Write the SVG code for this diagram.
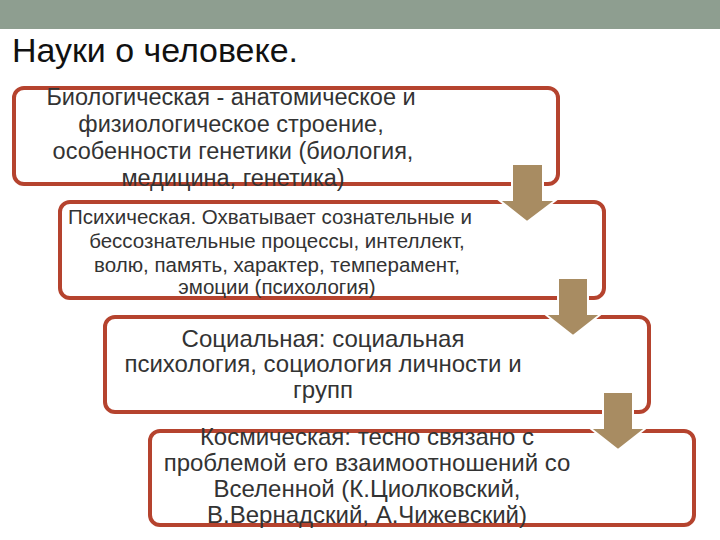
<svg xmlns="http://www.w3.org/2000/svg" width="720" height="540" viewBox="0 0 720 540">
<style>
.box{fill:#fff;stroke:#B5432E;stroke-width:4}
.arr{fill:#A88C62;stroke:#fff;stroke-width:2}
text{font-family:"Liberation Sans",Arial,sans-serif;fill:#333;text-anchor:middle}
</style>
<rect x="0" y="0" width="720" height="29" fill="#8E9E90"/>
<text x="12" y="62" style="text-anchor:start;font-size:33px;fill:#111" textLength="286" lengthAdjust="spacingAndGlyphs">Науки о человеке.</text>
<g id="n1"><rect class="box" x="14" y="88" width="544" height="96" rx="10"/>
<text font-size="23.5"><tspan x="231" y="105">Биологическая -  анатомическое и</tspan><tspan x="231" y="132">физиологическое строение,</tspan><tspan x="233" y="159">особенности генетики (биология,</tspan><tspan x="233" y="186">медицина, генетика)</tspan></text></g>
<g id="n2"><rect class="box" x="60" y="202" width="544" height="96" rx="10"/>
<text font-size="20.5"><tspan x="270" y="224">Психическая. Охватывает сознательные и</tspan><tspan x="277" y="248">бессознательные процессы, интеллект,</tspan><tspan x="277" y="272">волю, память, характер, темперамент,</tspan><tspan x="277" y="294">эмоции (психология)</tspan></text></g>
<g id="n3"><rect class="box" x="105" y="317" width="544" height="95" rx="10"/>
<text font-size="24"><tspan x="323" y="347">Социальная: социальная</tspan><tspan x="323" y="372">психология, социология личности и</tspan><tspan x="323" y="398">групп</tspan></text></g>
<g id="n4"><rect class="box" x="150" y="431" width="544" height="94" rx="10"/>
<text font-size="24"><tspan x="367" y="445">Космическая: тесно связано с</tspan><tspan x="367" y="471">проблемой его взаимоотношений со</tspan><tspan x="367" y="497">Вселенной (К.Циолковский,</tspan><tspan x="367" y="523">В.Вернадский, А.Чижевский)</tspan></text></g>
<g id="connectors">
<path class="arr" d="M512 164H543V200H556L527 222L499 200H512Z"/>
<path class="arr" d="M558 278H588V314H601L573 336L545 314H558Z"/>
<path class="arr" d="M603 392H633V428H646L618 450L590 428H603Z"/>
</g>
</svg>
